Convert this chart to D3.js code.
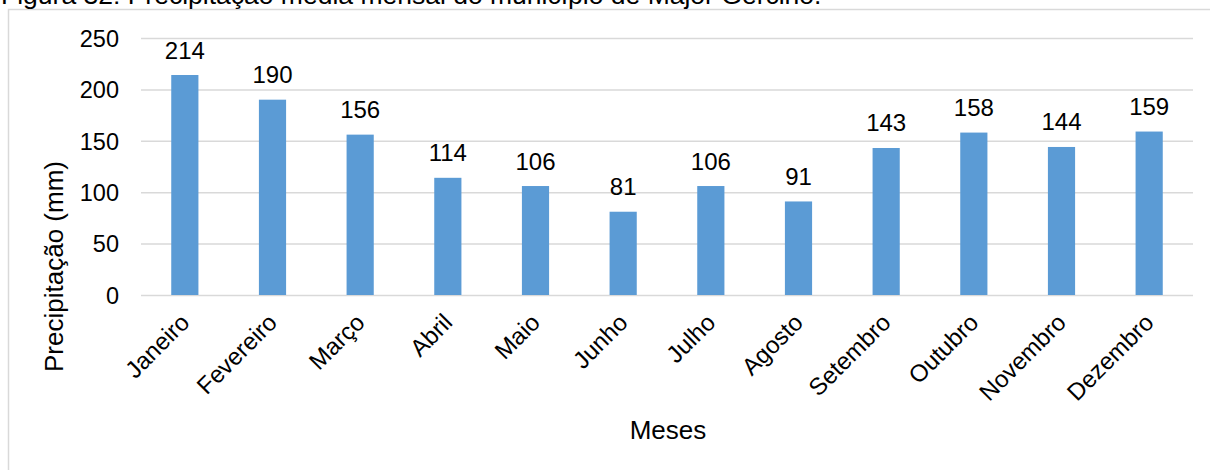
<!DOCTYPE html>
<html><head><meta charset="utf-8">
<script src="https://cdn.jsdelivr.net/npm/d3@7/dist/d3.min.js"></script>
<style>
body{margin:0;background:#fff;}
text{font-family:"Liberation Sans",Arial,sans-serif;fill:#000;}
</style>
</head><body>
<svg id="c" width="1210" height="470"></svg>
<script>
const months = ["Janeiro","Fevereiro","Março","Abril","Maio","Junho","Julho","Agosto","Setembro","Outubro","Novembro","Dezembro"];
const precipitation = [214,190,156,114,106,81,106,91,143,158,144,159];
const yTicks = [0,50,100,150,200,250];
const yTitle = "Precipitação (mm)";
const xTitle = "Meses";
const caption = "Figura 32: Precipitação média mensal do município de Major Gercino.";

const svg = d3.select("#c");
const plot = {left:141, right:1193, top:38, bottom:295};

// outer chart frame (extends beyond the photo on right/bottom)
svg.append("rect").attr("x",8.5).attr("y",9.5).attr("width",1400).attr("height",700)
  .attr("fill","none").attr("stroke","#d9d9d9").attr("stroke-width",1.5);

// cropped caption at top (as in the reference)
const cap = svg.append("text").attr("x",1).attr("y",4).style("font-size","24px").text(caption);
const capLen = cap.node().getComputedTextLength();
cap.style("font-size", (24*821/capLen)+"px");

const x = d3.scaleBand().domain(months).range([plot.left, plot.right]).paddingInner(0.69).paddingOuter(0.345);
const y = d3.scaleLinear().domain([0,250]).range([plot.bottom, plot.top]);

// y axis with gridlines
const gy = svg.append("g").attr("transform",`translate(${plot.left},0)`)
  .call(d3.axisLeft(y).tickValues(yTicks).tickSize(-(plot.right-plot.left)).tickPadding(22));
gy.select(".domain").remove();
gy.selectAll(".tick line").attr("stroke","#d9d9d9").attr("stroke-width",1.5);
gy.selectAll(".tick text").attr("fill","#000").style("font-size","23.5px")
  .attr("font-family",null).attr("dy","0.35em");

// bars
svg.append("g").selectAll("rect").data(months).join("rect")
  .attr("x", d => x(d))
  .attr("width", x.bandwidth())
  .attr("y", (d,i) => y(precipitation[i]))
  .attr("height", (d,i) => y(0) - y(precipitation[i]))
  .attr("fill","#5b9bd5");

// data labels
svg.append("g").selectAll("text").data(months).join("text")
  .attr("x", d => x(d) + x.bandwidth()/2)
  .attr("y", (d,i) => y(precipitation[i]) - 16.5)
  .attr("text-anchor","middle")
  .style("font-size","24px")
  .text((d,i) => precipitation[i]);

// x axis
const gx = svg.append("g").attr("transform",`translate(0,${plot.bottom})`)
  .call(d3.axisBottom(x).tickSize(0));
gx.select(".domain").remove();
gx.selectAll(".tick text")
  .attr("fill","#000").attr("font-family",null).style("font-size","24px")
  .attr("x",null).attr("y",null).attr("dy",null)
  .attr("text-anchor","end")
  .attr("transform","translate(6,29) rotate(-45)");

// axis titles
svg.append("text").attr("transform","translate(63,266.5) rotate(-90)")
  .attr("text-anchor","middle").style("font-size","26px").text(yTitle);
svg.append("text").attr("x",668).attr("y",439)
  .attr("text-anchor","middle").style("font-size","26px").text(xTitle);
</script>
</body></html>
